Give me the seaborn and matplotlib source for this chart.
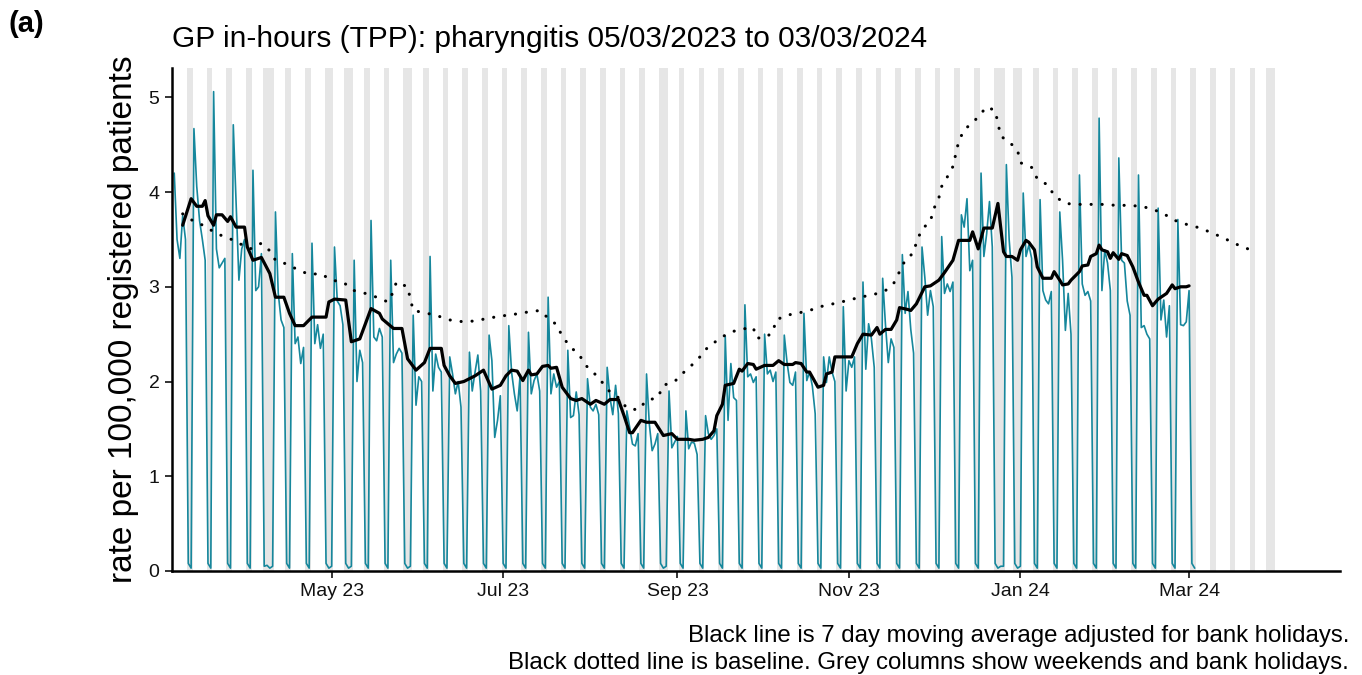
import numpy as np
import pandas as pd
import seaborn as sns
import matplotlib.pyplot as plt
import matplotlib.dates as mdates

# GP in-hours (TPP) pharyngitis, rate per 100,000 registered patients
# daily values, one row per week (Mon..Sun), first Monday 06/03/2023
week_start = "2023-03-06"
weekly_rates = [
    [4.20, 3.50, 3.30, 3.75, 3.50, 0.08, 0.03],
    [4.67, 4.06, 3.70, 3.50, 3.28, 0.08, 0.03],
    [5.06, 3.40, 3.20, 3.25, 3.30, 0.08, 0.03],
    [4.71, 3.90, 3.07, 3.40, 3.50, 0.08, 0.03],
    [4.23, 2.96, 3.00, 3.35, 0.05, 0.06, 0.03],
    [0.05, 3.79, 2.93, 2.65, 2.57, 0.08, 0.03],
    [3.35, 2.40, 2.47, 2.19, 2.36, 0.08, 0.03],
    [3.46, 2.40, 2.60, 2.35, 2.50, 0.08, 0.03],
    [0.05, 3.42, 2.85, 2.80, 2.60, 0.08, 0.03],
    [0.05, 3.28, 2.00, 2.33, 2.20, 0.08, 0.03],
    [3.70, 2.47, 2.43, 2.56, 2.47, 0.08, 0.03],
    [3.28, 2.20, 2.29, 2.35, 2.30, 0.08, 0.03],
    [0.05, 2.70, 1.75, 2.05, 2.00, 0.08, 0.03],
    [3.32, 1.90, 2.29, 2.15, 2.10, 0.08, 0.03],
    [2.26, 2.08, 1.87, 2.00, 1.73, 0.08, 0.03],
    [2.31, 1.90, 2.10, 2.28, 1.90, 0.08, 0.03],
    [2.49, 2.22, 1.41, 1.59, 1.85, 0.08, 0.03],
    [2.59, 2.10, 1.87, 1.69, 2.05, 0.08, 0.03],
    [2.52, 1.87, 2.01, 2.08, 1.90, 0.08, 0.03],
    [2.89, 1.87, 2.08, 1.94, 2.00, 0.08, 0.03],
    [2.33, 1.62, 1.64, 1.89, 1.65, 0.08, 0.03],
    [2.03, 1.73, 1.69, 1.76, 1.65, 0.08, 0.03],
    [2.15, 1.83, 1.65, 1.96, 1.66, 0.08, 0.03],
    [1.69, 1.52, 1.34, 1.32, 1.45, 0.08, 0.03],
    [2.08, 1.55, 1.27, 1.34, 1.45, 0.08, 0.03],
    [0.05, 1.90, 1.30, 1.36, 1.42, 0.08, 0.03],
    [1.69, 1.29, 1.36, 1.35, 1.23, 0.08, 0.03],
    [1.64, 1.45, 1.39, 1.43, 1.50, 0.08, 0.03],
    [2.48, 1.59, 2.19, 1.83, 1.80, 0.08, 0.03],
    [2.81, 2.05, 2.08, 1.99, 2.05, 0.08, 0.03],
    [2.50, 2.08, 2.12, 2.00, 2.10, 0.08, 0.03],
    [2.49, 2.20, 1.99, 1.96, 2.10, 0.08, 0.03],
    [2.72, 2.01, 2.10, 1.95, 1.66, 0.08, 0.03],
    [2.26, 1.99, 2.26, 2.10, 2.00, 0.08, 0.03],
    [2.79, 1.90, 2.22, 2.15, 2.26, 0.08, 0.03],
    [3.05, 2.13, 2.61, 2.45, 2.15, 0.08, 0.03],
    [3.09, 2.60, 2.20, 2.45, 2.36, 0.08, 0.03],
    [3.34, 2.72, 2.95, 2.55, 2.30, 0.08, 0.03],
    [3.42, 3.10, 2.70, 2.96, 2.79, 0.08, 0.03],
    [3.53, 2.93, 3.03, 2.95, 3.05, 0.08, 0.03],
    [3.76, 3.63, 3.93, 3.17, 3.28, 0.08, 0.03],
    [4.20, 3.32, 3.56, 3.90, 3.42, 0.08, 0.03],
    [0.05, 0.05, 4.29, 3.50, 3.10, 0.08, 0.03],
    [0.05, 3.99, 3.32, 3.44, 3.30, 0.08, 0.03],
    [3.92, 2.96, 2.86, 2.82, 2.95, 0.08, 0.03],
    [3.79, 3.28, 2.54, 2.93, 2.50, 0.08, 0.03],
    [4.18, 3.03, 2.91, 2.95, 2.85, 0.08, 0.03],
    [4.78, 2.96, 3.39, 3.25, 2.96, 0.08, 0.03],
    [4.36, 3.28, 3.25, 2.85, 2.70, 0.08, 0.03],
    [4.18, 2.57, 2.59, 2.50, 2.45, 0.08, 0.03],
    [3.83, 2.65, 2.86, 2.47, 2.80, 0.08, 0.03],
    [3.71, 2.60, 2.59, 2.63, 2.96, 0.08, 0.03],
]

bank_holidays = ["2023-04-07", "2023-04-10", "2023-05-01", "2023-05-08",
                 "2023-05-29", "2023-08-28", "2023-12-25", "2023-12-26",
                 "2024-01-01", "2024-03-29"]
shade_start = "2023-03-05"
shade_end = "2024-03-31"

# 7 day moving average adjusted for bank holidays
ma_dates = [
    "2023-03-09", "2023-03-12", "2023-03-14", "2023-03-16", "2023-03-17", "2023-03-18",
    "2023-03-20", "2023-03-21", "2023-03-23", "2023-03-25", "2023-03-26", "2023-03-28",
    "2023-03-31", "2023-04-01", "2023-04-03", "2023-04-06", "2023-04-09", "2023-04-11",
    "2023-04-14", "2023-04-16", "2023-04-18", "2023-04-21", "2023-04-23", "2023-04-24",
    "2023-04-29", "2023-04-30", "2023-05-02", "2023-05-06", "2023-05-08", "2023-05-11",
    "2023-05-13", "2023-05-15", "2023-05-18", "2023-05-19", "2023-05-23", "2023-05-26",
    "2023-05-28", "2023-05-31", "2023-06-03", "2023-06-05", "2023-06-09", "2023-06-10",
    "2023-06-12", "2023-06-14", "2023-06-17", "2023-06-21", "2023-06-24", "2023-06-27",
    "2023-06-30", "2023-07-02", "2023-07-04", "2023-07-06", "2023-07-08", "2023-07-10",
    "2023-07-11", "2023-07-13", "2023-07-15", "2023-07-17", "2023-07-18", "2023-07-20",
    "2023-07-22", "2023-07-25", "2023-07-27", "2023-07-29", "2023-08-01", "2023-08-03",
    "2023-08-06", "2023-08-08", "2023-08-11", "2023-08-13", "2023-08-15", "2023-08-16",
    "2023-08-19", "2023-08-21", "2023-08-24", "2023-08-27", "2023-08-30", "2023-09-01",
    "2023-09-03", "2023-09-05", "2023-09-07", "2023-09-10", "2023-09-12", "2023-09-14",
    "2023-09-15", "2023-09-17", "2023-09-18", "2023-09-21", "2023-09-23", "2023-09-24",
    "2023-09-26", "2023-09-28", "2023-09-29", "2023-10-02", "2023-10-05", "2023-10-07",
    "2023-10-09", "2023-10-12", "2023-10-13", "2023-10-15", "2023-10-17", "2023-10-18",
    "2023-10-21", "2023-10-23", "2023-10-24", "2023-10-26", "2023-10-27", "2023-11-02",
    "2023-11-04", "2023-11-06", "2023-11-09", "2023-11-11", "2023-11-12", "2023-11-14",
    "2023-11-16", "2023-11-18", "2023-11-19", "2023-11-22", "2023-11-23", "2023-11-25",
    "2023-11-28", "2023-11-30", "2023-12-01", "2023-12-03", "2023-12-05", "2023-12-08",
    "2023-12-10", "2023-12-12", "2023-12-14", "2023-12-15", "2023-12-17", "2023-12-19",
    "2023-12-22", "2023-12-24", "2023-12-26", "2023-12-27", "2023-12-29", "2023-12-31",
    "2024-01-01", "2024-01-03", "2024-01-04", "2024-01-06", "2024-01-07", "2024-01-09",
    "2024-01-12", "2024-01-13", "2024-01-15", "2024-01-16", "2024-01-18", "2024-01-19",
    "2024-01-20", "2024-01-22", "2024-01-23", "2024-01-25", "2024-01-26", "2024-01-28",
    "2024-01-29", "2024-01-30", "2024-02-01", "2024-02-02", "2024-02-03", "2024-02-05",
    "2024-02-06", "2024-02-08", "2024-02-10", "2024-02-12", "2024-02-14", "2024-02-15",
    "2024-02-17", "2024-02-19", "2024-02-21", "2024-02-22", "2024-02-24", "2024-02-25",
    "2024-02-27", "2024-02-29", "2024-03-01",
]
ma_values = [
    3.65, 3.93, 3.85, 3.85, 3.91, 3.75,
    3.65, 3.76, 3.76, 3.69, 3.74, 3.63,
    3.63, 3.42, 3.28, 3.31, 3.14, 2.89,
    2.89, 2.72, 2.59, 2.59, 2.65, 2.68,
    2.68, 2.84, 2.87, 2.86, 2.42, 2.45,
    2.61, 2.77, 2.72, 2.66, 2.56, 2.56,
    2.24, 2.12, 2.20, 2.35, 2.35, 2.17,
    2.06, 1.98, 2.00, 2.06, 2.12, 1.92,
    1.96, 2.06, 2.12, 2.11, 2.01, 2.12,
    2.07, 2.08, 2.16, 2.17, 2.14, 2.15,
    1.94, 1.82, 1.80, 1.82, 1.76, 1.80,
    1.76, 1.81, 1.81, 1.64, 1.46, 1.46,
    1.59, 1.57, 1.57, 1.43, 1.45, 1.39,
    1.39, 1.39, 1.38, 1.39, 1.41, 1.48,
    1.64, 1.76, 1.96, 1.98, 2.13, 2.11,
    2.19, 2.18, 2.13, 2.17, 2.17, 2.22,
    2.18, 2.18, 2.20, 2.19, 2.10, 2.10,
    1.94, 1.96, 2.08, 2.10, 2.26, 2.26,
    2.40, 2.50, 2.49, 2.57, 2.50, 2.55,
    2.55, 2.65, 2.78, 2.76, 2.75, 2.82,
    3.00, 3.01, 3.03, 3.07, 3.15, 3.28,
    3.49, 3.49, 3.49, 3.58, 3.40, 3.62,
    3.62, 3.88, 3.37, 3.32, 3.32, 3.28,
    3.39, 3.49, 3.47, 3.39, 3.21, 3.09,
    3.09, 3.16, 3.07, 3.02, 3.03, 3.07,
    3.10, 3.16, 3.22, 3.23, 3.32, 3.35,
    3.44, 3.39, 3.37, 3.30, 3.36, 3.29,
    3.35, 3.33, 3.21, 3.05, 2.91, 2.91,
    2.80, 2.87, 2.91, 2.93, 3.02, 2.98,
    3.00, 3.00, 3.01,
]

# baseline (dotted)
baseline_dates = [
    "2023-03-09", "2023-03-13", "2023-03-17", "2023-03-21", "2023-03-25", "2023-03-29",
    "2023-04-02", "2023-04-06", "2023-04-09", "2023-04-11", "2023-04-15", "2023-04-19",
    "2023-04-23", "2023-04-27", "2023-05-01", "2023-05-05", "2023-05-09", "2023-05-13",
    "2023-05-17", "2023-05-21", "2023-05-23", "2023-05-24", "2023-05-28", "2023-05-29",
    "2023-05-30", "2023-06-04", "2023-06-08", "2023-06-12", "2023-06-17", "2023-06-21",
    "2023-06-26", "2023-06-30", "2023-07-05", "2023-07-09", "2023-07-14", "2023-07-17",
    "2023-07-20", "2023-07-22", "2023-07-25", "2023-07-28", "2023-07-30", "2023-08-02",
    "2023-08-05", "2023-08-08", "2023-08-11", "2023-08-14", "2023-08-18", "2023-08-21",
    "2023-08-25", "2023-08-27", "2023-08-31", "2023-09-03", "2023-09-06", "2023-09-09",
    "2023-09-12", "2023-09-15", "2023-09-19", "2023-09-23", "2023-09-28", "2023-09-29",
    "2023-10-02", "2023-10-05", "2023-10-06", "2023-10-10", "2023-10-15", "2023-10-19",
    "2023-10-23", "2023-10-28", "2023-11-01", "2023-11-05", "2023-11-10", "2023-11-14",
    "2023-11-17", "2023-11-19", "2023-11-21", "2023-11-24", "2023-11-25", "2023-11-27",
    "2023-11-30", "2023-12-01", "2023-12-03", "2023-12-04", "2023-12-06", "2023-12-08",
    "2023-12-09", "2023-12-10", "2023-12-12", "2023-12-15", "2023-12-18", "2023-12-20",
    "2023-12-23", "2023-12-24", "2023-12-25", "2023-12-28", "2023-12-31", "2024-01-01",
    "2024-01-05", "2024-01-07", "2024-01-11", "2024-01-13", "2024-01-17", "2024-01-21",
    "2024-01-26", "2024-01-30", "2024-02-04", "2024-02-08", "2024-02-13", "2024-02-17",
    "2024-02-21", "2024-02-25", "2024-02-29", "2024-03-05", "2024-03-09", "2024-03-13",
    "2024-03-17", "2024-03-21", "2024-03-25",
]
baseline_values = [
    3.77, 3.69, 3.64, 3.56, 3.52, 3.46,
    3.40, 3.46, 3.38, 3.28, 3.24, 3.18,
    3.13, 3.14, 3.07, 3.05, 2.96, 2.93,
    2.89, 2.84, 2.95, 3.05, 3.00, 2.87,
    2.75, 2.72, 2.69, 2.65, 2.63, 2.64,
    2.67, 2.69, 2.71, 2.73, 2.75, 2.67,
    2.60, 2.48, 2.36, 2.29, 2.18, 2.10,
    2.00, 1.89, 1.83, 1.72, 1.70, 1.80,
    1.83, 1.96, 2.00, 2.09, 2.17, 2.26,
    2.37, 2.43, 2.51, 2.55, 2.57, 2.46,
    2.46, 2.52, 2.65, 2.70, 2.73, 2.76,
    2.80, 2.83, 2.86, 2.89, 2.92, 2.96,
    3.04, 3.16, 3.28, 3.36, 3.47, 3.61,
    3.69, 3.81, 3.94, 4.06, 4.16, 4.27,
    4.40, 4.53, 4.66, 4.73, 4.83, 4.90,
    4.86, 4.73, 4.59, 4.53, 4.44, 4.31,
    4.26, 4.14, 4.07, 3.96, 3.88, 3.87,
    3.87, 3.87, 3.86, 3.86, 3.85, 3.82,
    3.77, 3.70, 3.66, 3.62, 3.57, 3.52,
    3.46, 3.41, 3.37,
]

month_ticks = ["2023-05-01", "2023-07-01", "2023-09-01", "2023-11-01", "2024-01-01", "2024-03-01"]

TEAL = "#16879c"
GREY = "#e6e6e6"


def main():
    sns.set_theme(style="white")
    plt.rcParams['font.family'] = ['Liberation Sans', 'DejaVu Sans']
    plt.rcParams['text.color'] = 'black'
    plt.rcParams['axes.labelcolor'] = 'black'

    rates = np.array(weekly_rates).ravel()
    days = pd.date_range(week_start, periods=len(rates), freq="D")
    daily = pd.DataFrame({"date": days, "rate": rates})
    ma = pd.DataFrame({"date": pd.to_datetime(ma_dates), "rate": ma_values})
    base = pd.DataFrame({"date": pd.to_datetime(baseline_dates), "rate": baseline_values})

    fig = plt.figure(figsize=(13.62, 6.75), dpi=100)
    ax = fig.add_axes([0.1263, 0.1541, 0.8575, 0.7452])

    # grey columns for weekends and bank holidays
    hols = set(pd.to_datetime(bank_holidays))
    half = pd.Timedelta(hours=12)
    for d in pd.date_range(shade_start, shade_end, freq="D"):
        if d.dayofweek >= 5 or d in hols:
            ax.axvspan(d - half, d + half, color=GREY, lw=0, zorder=0)

    sns.lineplot(data=daily, x="date", y="rate", ax=ax, color=TEAL, lw=1.2, zorder=2)
    sns.lineplot(data=base, x="date", y="rate", ax=ax, color="black", lw=2.2,
                 linestyle=(0, (0.05, 3.55)), dash_capstyle="round", zorder=3)
    sns.lineplot(data=ma, x="date", y="rate", ax=ax, color="black", lw=2.3, zorder=4)

    ax.set_xlim(pd.Timestamp("2023-03-05 05:00"), pd.Timestamp("2024-04-23 16:00"))
    ax.set_ylim(0, 5.31)
    ax.set_xticks(pd.to_datetime(month_ticks))
    ax.xaxis.set_major_formatter(mdates.DateFormatter("%b %y"))
    ax.set_yticks([0, 1, 2, 3, 4, 5])

    for side in ["top", "right"]:
        ax.spines[side].set_visible(False)
    for side in ["left", "bottom"]:
        ax.spines[side].set_color("black")
        ax.spines[side].set_linewidth(1.8)
    ax.tick_params(axis="both", which="major", length=5, width=1.4, color="#333333",
                   labelsize=14, labelcolor="#111111", bottom=True, left=True, pad=4)

    ax.set_xlabel("")
    ax.set_ylabel("rate per 100,000 registered patients", fontsize=24, labelpad=7)
    ax.grid(False)

    fig.text(0.1263, 0.93, "GP in-hours (TPP): pharyngitis 05/03/2023 to 03/03/2024",
             fontsize=21.5, ha="left", va="baseline")
    fig.text(0.006, 0.952, "(a)", fontsize=21, fontweight="bold", ha="left", va="baseline")
    fig.text(0.9905, 0.049, "Black line is 7 day moving average adjusted for bank holidays.",
             fontsize=17.3, ha="right", va="baseline")
    fig.text(0.9905, 0.009,
             "Black dotted line is baseline. Grey columns show weekends and bank holidays.",
             fontsize=17.3, ha="right", va="baseline")

    fig.savefig("out.png", dpi=100)


if __name__ == '__main__':
    main()
